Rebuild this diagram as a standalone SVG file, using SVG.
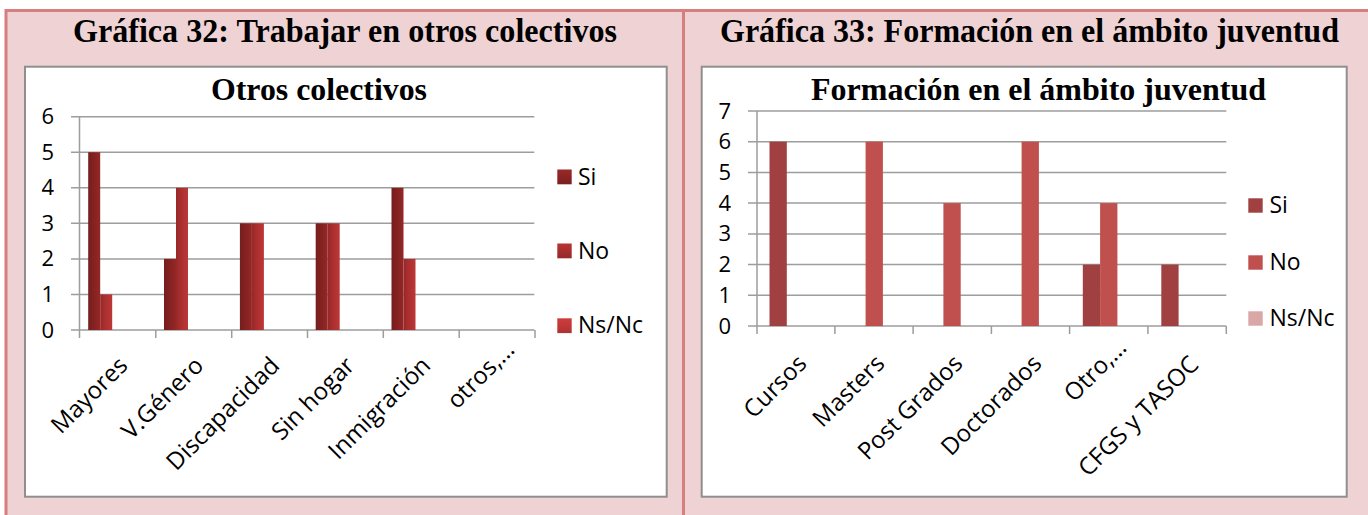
<svg xmlns="http://www.w3.org/2000/svg" width="1368" height="515" viewBox="0 0 1368 515">
<style>
.hdr{font-family:"Liberation Serif","Times New Roman",serif;font-weight:bold;font-size:33px;fill:#000}
.ct{font-family:"Liberation Serif","Times New Roman",serif;font-weight:bold;font-size:31px;fill:#000}
.lb{font-family:"Open Sans","Liberation Sans",sans-serif;font-size:22px;fill:#000}
.cat{font-family:"Open Sans","Liberation Sans",sans-serif;font-size:24px;fill:#000}
.lg{font-family:"Open Sans","Liberation Sans",sans-serif;font-size:23px;fill:#000}
.grid{stroke:#9d9d9d;stroke-width:1.5;fill:none}
.box{fill:#fff;stroke:#8f8f8f;stroke-width:2}
.frame{stroke:#d77f7f;stroke-width:3;fill:none}
.si2{fill:#a04040}
.no2{fill:#c0504d}
.ns2{fill:#d9a7a6}
</style>
<defs>
<linearGradient id="gSi" x1="0" y1="0" x2="1" y2="0">
<stop offset="0" stop-color="#761d1d"/><stop offset="1" stop-color="#952727"/>
</linearGradient>
<linearGradient id="gNo" x1="0" y1="0" x2="1" y2="0">
<stop offset="0" stop-color="#952828"/><stop offset="0.35" stop-color="#a92e2e"/><stop offset="1" stop-color="#bd3737"/>
</linearGradient>
<linearGradient id="gNs" x1="0" y1="0" x2="0" y2="1">
<stop offset="0" stop-color="#d03d3d"/><stop offset="1" stop-color="#b03232"/>
</linearGradient>
<linearGradient id="gSiL" x1="0" y1="0" x2="0" y2="1">
<stop offset="0" stop-color="#9a2929"/><stop offset="1" stop-color="#7a1f1f"/>
</linearGradient>
<linearGradient id="gNoL" x1="0" y1="0" x2="0" y2="1">
<stop offset="0" stop-color="#b83434"/><stop offset="1" stop-color="#962828"/>
</linearGradient>
</defs>

<g id="background">
<rect x="6" y="10.5" width="1370" height="510" fill="#efd3d4"/>
<path class="frame" d="M6,515 V10.5 H1368 M683.5,10.5 V515"/>
</g>

<g id="header-32">
<text class="hdr" x="73" y="42" textLength="544" lengthAdjust="spacingAndGlyphs">Gráfica 32: Trabajar en otros colectivos</text>
</g>
<g id="header-33">
<text class="hdr" x="720" y="42" textLength="619" lengthAdjust="spacingAndGlyphs">Gráfica 33: Formación en el ámbito juventud</text>
</g>

<g id="chart-32">
<rect class="box" x="25" y="66.7" width="641.7" height="430"/>
<text class="ct" x="211" y="100" textLength="216" lengthAdjust="spacingAndGlyphs">Otros colectivos</text>
<g id="grid-32">
<path class="grid" d="M71,116.7H534.3 M71,152.2H534.3 M71,187.8H534.3 M71,223.3H534.3 M71,258.9H534.3 M71,294.4H534.3 M71,330H534.3 M79.5,116.7V338 M155.8,330V338 M231.7,330V338 M307.5,330V338 M383.3,330V338 M459.2,330V338 M535,330V338"/>
</g>
<g id="yaxis-32" class="lb" text-anchor="end">
<text x="54" y="124">6</text>
<text x="54" y="159.7">5</text>
<text x="54" y="195.3">4</text>
<text x="54" y="230.8">3</text>
<text x="54" y="266.4">2</text>
<text x="54" y="301.9">1</text>
<text x="54" y="337.5">0</text>
</g>
<g id="bars-32">
<rect x="88.2" y="152.2" width="12" height="177.8" fill="url(#gSi)"/>
<rect x="100.2" y="294.4" width="12" height="35.6" fill="url(#gNo)"/>
<rect x="164" y="258.9" width="12" height="71.1" fill="url(#gSi)"/>
<rect x="176" y="187.8" width="12" height="142.2" fill="url(#gNo)"/>
<rect x="239.9" y="223.3" width="12" height="106.7" fill="url(#gSi)"/>
<rect x="251.9" y="223.3" width="12" height="106.7" fill="url(#gNo)"/>
<rect x="315.7" y="223.3" width="12" height="106.7" fill="url(#gSi)"/>
<rect x="327.7" y="223.3" width="12" height="106.7" fill="url(#gNo)"/>
<rect x="391.5" y="187.8" width="12" height="142.2" fill="url(#gSi)"/>
<rect x="403.5" y="258.9" width="12" height="71.1" fill="url(#gNo)"/>
</g>
<g id="xaxis-32" class="cat" text-anchor="end">
<text transform="translate(129,367) rotate(-45)">Mayores</text>
<text transform="translate(205,367) rotate(-45)">V.Género</text>
<text transform="translate(281,367) rotate(-45)">Discapacidad</text>
<text transform="translate(356,367) rotate(-45)">Sin hogar</text>
<text transform="translate(432,367) rotate(-45)">Inmigración</text>
<text transform="translate(516,351) rotate(-45)">otros,…</text>
</g>
<g id="legend-32">
<rect x="557.3" y="169.5" width="14.4" height="14.8" fill="url(#gSiL)"/>
<text class="lg" x="578" y="184.5">Si</text>
<rect x="557.3" y="243.5" width="14.4" height="14.8" fill="url(#gNoL)"/>
<text class="lg" x="578" y="258.5">No</text>
<rect x="557.3" y="318.3" width="14.4" height="14.8" fill="url(#gNs)"/>
<text class="lg" x="578" y="333">Ns/Nc</text>
</g>
</g>

<g id="chart-33">
<rect class="box" x="701.7" y="66.7" width="645" height="430"/>
<text class="ct" x="811" y="100" textLength="455" lengthAdjust="spacingAndGlyphs">Formación en el ámbito juventud</text>
<g id="grid-33">
<path class="grid" d="M748,111H1226.3 M748,141.7H1226.3 M748,172.4H1226.3 M748,203.1H1226.3 M748,233.9H1226.3 M748,264.6H1226.3 M748,295.3H1226.3 M748,326H1226.3 M757,111V334 M834.9,326V334 M913.1,326V334 M991.4,326V334 M1069.6,326V334 M1147.9,326V334 M1226.3,326V334"/>
</g>
<g id="yaxis-33" class="lb" text-anchor="end">
<text x="731" y="118.5">7</text>
<text x="731" y="149.2">6</text>
<text x="731" y="179.9">5</text>
<text x="731" y="210.6">4</text>
<text x="731" y="241.4">3</text>
<text x="731" y="272.1">2</text>
<text x="731" y="302.8">1</text>
<text x="731" y="333.5">0</text>
</g>
<g id="bars-33">
<rect class="si2" x="769.5" y="141.7" width="17.3" height="184.3"/>
<rect class="no2" x="865.6" y="141.7" width="17.3" height="184.3"/>
<rect class="no2" x="943.4" y="203.1" width="17.3" height="122.9"/>
<rect class="no2" x="1021.6" y="141.7" width="17.3" height="184.3"/>
<rect class="si2" x="1082.8" y="264.6" width="17.3" height="61.4"/>
<rect class="no2" x="1100.1" y="203.1" width="17.3" height="122.9"/>
<rect class="si2" x="1161.3" y="264.6" width="17.3" height="61.4"/>
</g>
<g id="xaxis-33" class="cat" text-anchor="end">
<text transform="translate(808,365) rotate(-45)">Cursos</text>
<text transform="translate(886,365) rotate(-45)">Masters</text>
<text transform="translate(964,365) rotate(-45)">Post Grados</text>
<text transform="translate(1043,365) rotate(-45)">Doctorados</text>
<text transform="translate(1128,349) rotate(-45)">Otro,…</text>
<text transform="translate(1200,366) rotate(-45)">CFGS y TASOC</text>
</g>
<g id="legend-33">
<rect class="si2" x="1248.3" y="198.3" width="14.4" height="14.4"/>
<text class="lg" x="1269.5" y="213">Si</text>
<rect class="no2" x="1248.3" y="255.3" width="14.4" height="14.4"/>
<text class="lg" x="1269.5" y="270">No</text>
<rect class="ns2" x="1248.3" y="311.3" width="14.4" height="14.4"/>
<text class="lg" x="1269.5" y="326">Ns/Nc</text>
</g>
</g>
</svg>
